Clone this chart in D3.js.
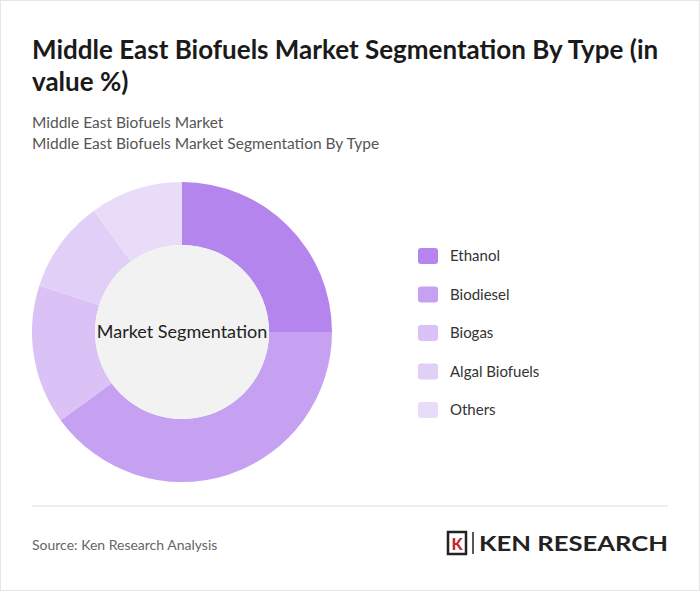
<!DOCTYPE html>
<html><head><meta charset="utf-8">
<script src="https://cdn.jsdelivr.net/npm/d3@7/dist/d3.min.js"></script>
<style>body{margin:0;background:#fff;font-family:Lato,"Open Sans",sans-serif;}</style>
</head><body><svg id="c" width="700" height="591"></svg>
<script>
const categories = ["Ethanol","Biodiesel","Biogas","Algal Biofuels","Others"];
const values = [25,40,15,10,10];
const colors = ["#b585ee","#c7a1f1","#dbc2f6","#e1cff7","#e9dcf9"];

const svg = d3.select("#c");
svg.append("rect").attr("x",0.5).attr("y",0.5).attr("width",699).attr("height",590).attr("fill","#fff").attr("stroke","#e6e6e6");
const t = svg.append("text").attr("x",32).attr("y",59).attr("font-size",26).attr("font-weight",700).attr("fill","#1a1a1a");
t.append("tspan").attr("x",32).attr("dy",0).text("Middle East Biofuels Market Segmentation By Type (in");
t.append("tspan").attr("x",32).attr("dy",32).text("value %)");
svg.append("text").attr("x",32).attr("y",128).attr("font-size",15.5).attr("fill","#555").text("Middle East Biofuels Market");
svg.append("text").attr("x",32).attr("y",149).attr("font-size",15.5).attr("fill","#555").text("Middle East Biofuels Market Segmentation By Type");

const cx=182, cy=332, R=150, r=87;
const g = svg.append("g").attr("transform",`translate(${cx},${cy})`);
const pie = d3.pie().sort(null).value(d=>d)(values);
const arc = d3.arc().innerRadius(r).outerRadius(R);
g.selectAll("path").data(pie).join("path").attr("d",arc).attr("fill",(d,i)=>colors[i]);
g.append("circle").attr("r",r).attr("fill","#f2f2f2");
g.append("text").attr("text-anchor","middle").attr("dy",6).attr("font-size",18).attr("fill","#222").text("Market Segmentation");

const leg = svg.append("g");
categories.forEach((c,i)=>{
  const y = 256 + i*38.5;
  leg.append("rect").attr("x",418).attr("y",y-8).attr("width",20).attr("height",16).attr("rx",3).attr("fill",colors[i]);
  leg.append("text").attr("x",450).attr("y",y+5).attr("font-size",15).attr("fill","#333").text(c);
});

svg.append("line").attr("x1",32).attr("x2",668).attr("y1",506).attr("y2",506).attr("stroke","#ddd");
svg.append("text").attr("x",32).attr("y",550).attr("font-size",14).attr("fill","#666").text("Source: Ken Research Analysis");
const lg = svg.append("g");
lg.append("rect").attr("x",448).attr("y",532).attr("width",18).attr("height",22).attr("fill","none").attr("stroke","#222").attr("stroke-width",2.5);
lg.append("text").attr("x",457).attr("y",550).attr("text-anchor","middle").attr("font-size",16).attr("font-weight",900).attr("fill","#c0282d").text("K");
lg.append("line").attr("x1",473).attr("x2",473).attr("y1",532).attr("y2",554).attr("stroke","#222").attr("stroke-width",1.5);
lg.append("text").attr("x",479).attr("y",551).attr("font-size",20).attr("font-weight",700).attr("fill","#222").attr("textLength",189).attr("lengthAdjust","spacingAndGlyphs").text("KEN RESEARCH");
</script></body></html>
